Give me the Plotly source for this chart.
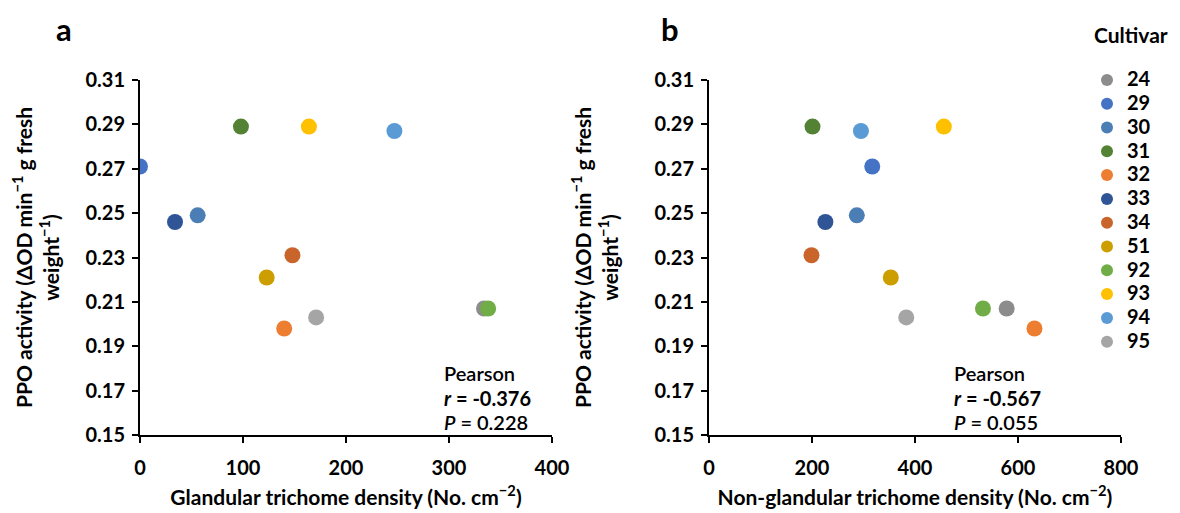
import plotly.graph_objects as go

# ---- data ----
cultivars = ["24", "29", "30", "31", "32", "33", "34", "51", "92", "93", "94", "95"]
ppo_activity = [0.207, 0.271, 0.249, 0.289, 0.198, 0.246, 0.231, 0.221, 0.207, 0.289, 0.287, 0.203]
glandular_density = [334, 0, 56, 98, 140, 34, 148, 123, 338, 164, 247, 171]
nonglandular_density = [578, 317, 287, 201, 632, 226, 199, 353, 532, 456, 295, 383]
colors = ["#8C8C8C", "#4472C4", "#4A7EB4", "#548235", "#ED7D31", "#2F5597",
          "#C9652A", "#CC9E00", "#70AD47", "#FFC000", "#5B9BD5", "#A5A5A5"]

y_ticks = [0.15, 0.17, 0.19, 0.21, 0.23, 0.25, 0.27, 0.29, 0.31]
xa_ticks = [0, 100, 200, 300, 400]
xb_ticks = [0, 200, 400, 600, 800]

stats_a = ["Pearson", "<i>r</i> = -0.376", "<i>P</i> = 0.228"]
stats_b = ["Pearson", "<i>r</i> = -0.567", "<i>P</i> = 0.055"]

W, H = 1180, 513
FONT = "Lato"
PAGE_OFF = 8  # default body margin of the html page

fig = go.Figure()
for i, c in enumerate(cultivars):
    fig.add_trace(go.Scatter(
        x=[glandular_density[i]], y=[ppo_activity[i]], mode="markers",
        marker=dict(size=16, color=colors[i], line=dict(width=0)),
        name="<span style='font-size:20px'>" + c + "</span>",
        legendgroup=c, showlegend=True, xaxis="x", yaxis="y"))
for i, c in enumerate(cultivars):
    fig.add_trace(go.Scatter(
        x=[nonglandular_density[i]], y=[ppo_activity[i]], mode="markers",
        marker=dict(size=16, color=colors[i], line=dict(width=0)),
        name=c, legendgroup=c, showlegend=False, xaxis="x2", yaxis="y2"))

def px_x(p):
    return (p - PAGE_OFF) / W

def px_y(p):
    return 1 - (p - PAGE_OFF) / H

tickfont = dict(family=FONT, size=20, color="black", weight="bold")
titlefont = dict(family=FONT, size=21, color="black", weight="bold")
ytitle = "PPO activity (ΔOD min<sup>−1</sup> g fresh<br>weight<sup>−1</sup>)"

common_axis = dict(showline=True, linecolor="black", linewidth=2, ticks="outside",
                   ticklen=6, tickwidth=2, tickcolor="black", showgrid=False,
                   zeroline=False, tickfont=tickfont, mirror=False, automargin=False)

ydom = [px_y(435), px_y(80)]

fig.update_layout(
    width=W, height=H, margin=dict(l=0, r=0, t=0, b=0, autoexpand=False),
    paper_bgcolor="white", plot_bgcolor="white",
    font=dict(family=FONT, color="black"),
    xaxis=dict(domain=[px_x(140), px_x(552)], range=[0, 400], tickvals=xa_ticks,
               ticklabelstandoff=8,
               title=dict(text="Glandular trichome density (No. cm<sup>−2</sup>)",
                          font=titlefont, standoff=12),
               anchor="y", **common_axis),
    yaxis=dict(domain=ydom, range=[0.15, 0.31], tickvals=y_ticks, tickformat=".2f",
               ticklabelstandoff=3,
               title=dict(text=ytitle, font=titlefont, standoff=30),
               anchor="x", **common_axis),
    xaxis2=dict(domain=[px_x(709), px_x(1121)], range=[0, 800], tickvals=xb_ticks,
                ticklabelstandoff=8,
                title=dict(text="Non-glandular trichome density (No. cm<sup>−2</sup>)",
                           font=titlefont, standoff=12),
                anchor="y2", **common_axis),
    yaxis2=dict(domain=ydom, range=[0.15, 0.31], tickvals=y_ticks, tickformat=".2f",
                ticklabelstandoff=3,
                title=dict(text=ytitle, font=titlefont, standoff=30),
                anchor="x2", **common_axis),
    legend=dict(x=px_x(1087), y=px_y(63), xanchor="left", yanchor="top",
                font=dict(family=FONT, size=16, color="black", weight="bold"),
                itemsizing="constant", bgcolor="rgba(0,0,0,0)", tracegroupgap=0),
    showlegend=True,
)

ann = []
ann.append(dict(text="<b>a</b>", x=px_x(64), y=px_y(29), xref="paper", yref="paper",
                xanchor="center", yanchor="middle",
                showarrow=False, font=dict(family=FONT, size=31, color="black")))
ann.append(dict(text="<b>b</b>", x=px_x(670), y=px_y(29), xref="paper", yref="paper",
                xanchor="center", yanchor="middle",
                showarrow=False, font=dict(family=FONT, size=31, color="black")))
ann.append(dict(text="<b>Cultivar</b>", x=px_x(1131), y=px_y(35), xref="paper", yref="paper",
                xanchor="center", yanchor="middle",
                showarrow=False, font=dict(family=FONT, size=21, color="black")))
for lines, x0 in ((stats_a, 442), (stats_b, 952)):
    for j, t in enumerate(lines):
        ann.append(dict(text=t, x=px_x(x0), y=px_y(373 + 24.5 * j), xref="paper", yref="paper",
                        xanchor="left", yanchor="middle", showarrow=False,
                        font=dict(family=FONT, size=20, color="black",
                                  weight="bold" if j == 1 else 600)))
fig.update_layout(annotations=ann)

fig.write_html("out.html")
